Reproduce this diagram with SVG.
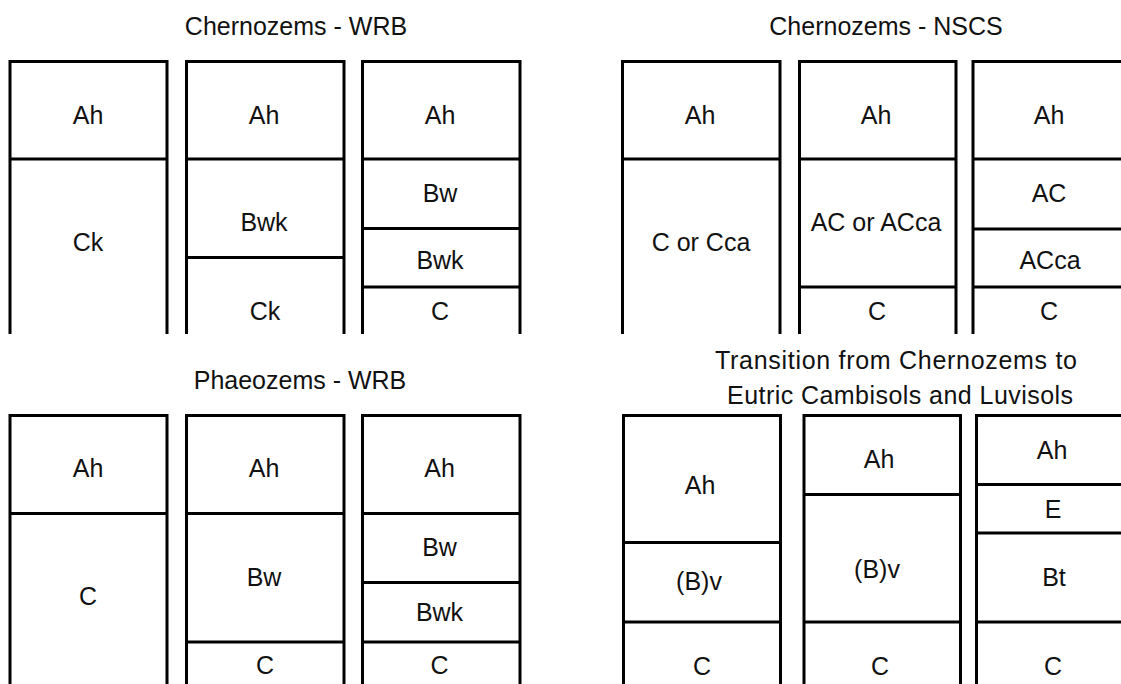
<svg xmlns="http://www.w3.org/2000/svg" width="1121" height="684" viewBox="0 0 1121 684">
<style>
.b{fill:none;stroke:#000;stroke-width:3;stroke-linejoin:miter}
text{font-family:"Liberation Sans",Arial,sans-serif;font-size:25px;fill:#111;text-anchor:middle}
</style>
<rect width="1121" height="684" fill="#fff"/>
<g id="titles">
<text x="296" y="35">Chernozems - WRB</text>
<text x="886" y="35">Chernozems - NSCS</text>
<text x="300" y="389">Phaeozems - WRB</text>
<text x="896" y="369" textLength="362" lengthAdjust="spacing">Transition from Chernozems to</text>
<text x="900" y="404" textLength="346" lengthAdjust="spacing">Eutric Cambisols and Luvisols</text>
</g>
<g id="chernozems-wrb">
<g id="cw1"><path class="b" d="M10,334V61.5H167V334M10,159H167"/>
<text x="88" y="124">Ah</text><text x="88" y="251">Ck</text></g>
<g id="cw2"><path class="b" d="M186.5,334V61.5H344V334M186.5,159H344M186.5,257.5H344"/>
<text x="264" y="124">Ah</text><text x="264" y="231">Bwk</text><text x="265" y="320">Ck</text></g>
<g id="cw3"><path class="b" d="M362.5,334V61.5H520V334M362.5,159H520M362.5,228.5H520M362.5,287H520"/>
<text x="440" y="124">Ah</text><text x="440" y="202">Bw</text><text x="440" y="268.5">Bwk</text><text x="440" y="320">C</text></g>
</g>
<g id="chernozems-nscs">
<g id="cn1"><path class="b" d="M622.5,334V61.5H780V334M622.5,159H780"/>
<text x="700" y="124">Ah</text><text x="701" y="251">C or Cca</text></g>
<g id="cn2"><path class="b" d="M799.5,334V61.5H956V334M799.5,159H956M799.5,287H956"/>
<text x="876" y="124">Ah</text><text x="876" y="231">AC or ACca</text><text x="877" y="320">C</text></g>
<g id="cn3"><path class="b" d="M973,334V61.5H1130V334M973,159H1130M973,229H1130M973,287H1130"/>
<text x="1049" y="124">Ah</text><text x="1049" y="202">AC</text><text x="1050" y="268.5">ACca</text><text x="1049" y="320">C</text></g>
</g>
<g id="phaeozems-wrb">
<g id="pw1"><path class="b" d="M10,690V415.5H167V690M10,513.5H167"/>
<text x="88" y="477">Ah</text><text x="88" y="605">C</text></g>
<g id="pw2"><path class="b" d="M186.5,690V415.5H344V690M186.5,513.5H344M186.5,642H344"/>
<text x="264" y="477">Ah</text><text x="264" y="586">Bw</text><text x="265" y="673.5">C</text></g>
<g id="pw3"><path class="b" d="M362.5,690V415.5H520V690M362.5,513.5H520M362.5,582.5H520M362.5,642H520"/>
<text x="439.5" y="477">Ah</text><text x="439.5" y="556">Bw</text><text x="439.5" y="621">Bwk</text><text x="439.5" y="673.5">C</text></g>
</g>
<g id="transition">
<g id="tr1"><path class="b" d="M623.5,690V415.5H780.5V690M623.5,542.5H780.5M623.5,622H780.5"/>
<text x="700" y="493.5">Ah</text><text x="699" y="590">(B)v</text><text x="702" y="675">C</text></g>
<g id="tr2"><path class="b" d="M804,690V415.5H960.5V690M804,494.5H960.5M804,622H960.5"/>
<text x="879" y="467.5">Ah</text><text x="877" y="578">(B)v</text><text x="880" y="675">C</text></g>
<g id="tr3"><path class="b" d="M976.5,690V415.5H1133V690M976.5,484.5H1133M976.5,533H1133M976.5,622H1133"/>
<text x="1052" y="458.5">Ah</text><text x="1053" y="517.5">E</text><text x="1054" y="586">Bt</text><text x="1053" y="675">C</text></g>
</g>
<g id="connectors"/>
</svg>
